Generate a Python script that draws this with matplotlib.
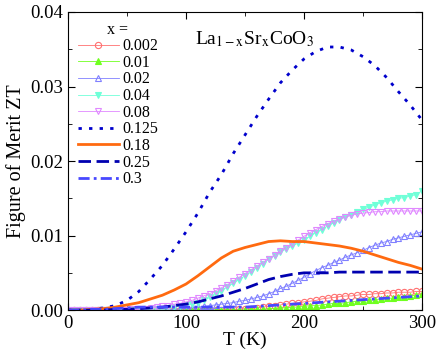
import numpy as np
import matplotlib
matplotlib.use("Agg")
import matplotlib.pyplot as plt
from matplotlib.ticker import MultipleLocator

plt.rcParams['font.family'] = ['Liberation Serif', 'DejaVu Serif']
plt.rcParams['mathtext.fontset'] = 'stix'

# temperatures for marker series (5 K steps) and line series (10 K steps)
T5 = np.arange(0, 301, 5)
T10 = np.arange(0, 301, 10)

zt_002 = [0.0] * 26 + [0.0000, 0.0001, 0.0001, 0.0001, 0.0002, 0.0002, 0.0003, 0.0004, 0.0005,
                       0.0006, 0.0007, 0.0008, 0.0009, 0.0010, 0.0011, 0.0012, 0.0013, 0.0015,
                       0.0016, 0.0017, 0.0018, 0.0019, 0.0019, 0.0020, 0.0021, 0.0021, 0.0022,
                       0.0022, 0.0023, 0.0023, 0.0024, 0.0024, 0.0024, 0.0025, 0.0025]
zt_01 = [0.0] * 31 + [0.0001, 0.0001, 0.0001, 0.0002, 0.0002, 0.0003, 0.0003, 0.0004, 0.0004,
                      0.0005, 0.0006, 0.0006, 0.0007, 0.0008, 0.0009, 0.0009, 0.0010, 0.0011,
                      0.0012, 0.0012, 0.0013, 0.0014, 0.0015, 0.0016, 0.0016, 0.0017, 0.0018,
                      0.0019, 0.0020, 0.0021]
zt_02 = [0.0] * 17 + [0.0001, 0.0001, 0.0002, 0.0002, 0.0003, 0.0004, 0.0005, 0.0006, 0.0007,
                      0.0008, 0.0009, 0.0010, 0.0012, 0.0013, 0.0015, 0.0017, 0.0019, 0.0022,
                      0.0025, 0.0029, 0.0032, 0.0036, 0.0040, 0.0044, 0.0049, 0.0053, 0.0057,
                      0.0060, 0.0064, 0.0067, 0.0071, 0.0074, 0.0077, 0.0080, 0.0084, 0.0087,
                      0.0090, 0.0092, 0.0095, 0.0097, 0.0099, 0.0101, 0.0103, 0.0105]
zt_04 = [0.0] * 13 + [0.0001, 0.0001, 0.0002, 0.0002, 0.0003, 0.0004, 0.0005, 0.0007, 0.0008,
                      0.0010, 0.0013, 0.0017, 0.0021, 0.0026, 0.0031, 0.0036, 0.0041, 0.0046,
                      0.0051, 0.0057, 0.0062, 0.0068, 0.0073, 0.0078, 0.0082, 0.0086, 0.0090,
                      0.0094, 0.0099, 0.0104, 0.0108, 0.0113, 0.0117, 0.0121, 0.0125, 0.0128,
                      0.0132, 0.0135, 0.0138, 0.0141, 0.0144, 0.0146, 0.0148, 0.0150, 0.0151,
                      0.0153, 0.0155, 0.0160]
zt_08 = [0.0] * 11 + [0.0001, 0.0001, 0.0002, 0.0003, 0.0004, 0.0005, 0.0006, 0.0008, 0.0009,
                      0.0011, 0.0013, 0.0016, 0.0019, 0.0022, 0.0026, 0.0030, 0.0034, 0.0039,
                      0.0044, 0.0049, 0.0054, 0.0059, 0.0064, 0.0069, 0.0074, 0.0079, 0.0084,
                      0.0089, 0.0094, 0.0099, 0.0104, 0.0108, 0.0112, 0.0116, 0.0119, 0.0122,
                      0.0125, 0.0127, 0.0129, 0.0130, 0.0131, 0.0132, 0.0132, 0.0133, 0.0133,
                      0.0133, 0.0133, 0.0133, 0.0133, 0.0133]

zt_125 = [0.0, 0.0, 0.0001, 0.0003, 0.0006, 0.0013, 0.0025, 0.0042, 0.0060, 0.0082, 0.0105,
          0.0130, 0.0158, 0.0182, 0.0210, 0.0235, 0.0260, 0.0283, 0.0305, 0.0322, 0.0337,
          0.0347, 0.0353, 0.0353, 0.0349, 0.0340, 0.0328, 0.0312, 0.0293, 0.0275, 0.0255]
zt_18 = [0.0, 0.0, 0.0001, 0.0002, 0.0004, 0.0007, 0.0010, 0.0015, 0.0020, 0.0027, 0.0035,
         0.0046, 0.0058, 0.0070, 0.0079, 0.0084, 0.0088, 0.0092, 0.0093, 0.0092, 0.0092,
         0.0090, 0.0088, 0.0086, 0.0083, 0.0079, 0.0074, 0.0069, 0.0064, 0.0060, 0.0055]
zt_25 = [0.0, 0.0, 0.0, 0.0, 0.0001, 0.0001, 0.0002, 0.0003, 0.0004, 0.0006, 0.0008,
         0.0011, 0.0015, 0.0019, 0.0024, 0.0029, 0.0035, 0.0041, 0.0045, 0.0048, 0.0050,
         0.0050, 0.0050, 0.0051, 0.0051, 0.0051, 0.0051, 0.0051, 0.0051, 0.0051, 0.0051]
zt_3 = [0.0, 0.0, 0.0001, 0.0001, 0.0002, 0.0003, 0.0004, 0.0004, 0.0004, 0.0004, 0.0004,
        0.0004, 0.0004, 0.0004, 0.0004, 0.0004, 0.0005, 0.0006, 0.0007, 0.0008, 0.0009,
        0.0010, 0.0011, 0.0012, 0.0013, 0.0014, 0.0015, 0.0016, 0.0017, 0.0018, 0.0019]

fig = plt.figure(figsize=(4.36, 3.52), dpi=100)
ax = fig.add_axes([0.156, 0.119, 0.812, 0.847])

ms = 4.5
ax.plot(T5, zt_002, '-', color='#ff7070', lw=0.6, marker='o', mfc='none', ms=ms, mew=0.8, label='0.002')
ax.plot(T5, zt_01, '-', color='#70ff20', lw=0.6, marker='^', ms=ms, mew=0.8, label='0.01')
ax.plot(T5, zt_02, '-', color='#8080ff', lw=0.6, marker='^', mfc='none', ms=ms, mew=0.8, label='0.02')
ax.plot(T5, zt_04, '-', color='#70ffd8', lw=0.6, marker='v', ms=ms, mew=0.8, label='0.04')
ax.plot(T5, zt_08, '-', color='#e088ff', lw=0.6, marker='v', mfc='none', ms=ms, mew=0.8, label='0.08')
ax.plot(T10, zt_125, color='#0000cc', lw=2, dashes=(1.2, 2.6), label='0.125')
ax.plot(T10, zt_18, '-', color='#ff6a10', lw=2, label='0.18')
ax.plot(T10, zt_25, color='#0000b0', lw=2, dashes=(4.5, 2), label='0.25')
ax.plot(T10, zt_3, color='#4848ff', lw=2, dashes=(4, 1.5, 1, 1.5), label='0.3')

ax.set_xlim(0, 300)
ax.set_ylim(0, 0.04)
ax.xaxis.set_major_locator(MultipleLocator(100))
ax.xaxis.set_minor_locator(MultipleLocator(50))
ax.yaxis.set_major_locator(MultipleLocator(0.01))
ax.yaxis.set_minor_locator(MultipleLocator(0.005))
ax.yaxis.set_major_formatter(plt.FormatStrFormatter('%.2f'))
ax.tick_params(which='both', direction='in', top=True, right=True, labelsize=13.5)
ax.tick_params(which='major', length=5)
ax.tick_params(which='minor', length=3)

ax.set_xlabel('T (K)', fontsize=14, labelpad=0)
ax.set_ylabel('Figure of Merit ZT', fontsize=14.5, labelpad=3)

ax.text(0.36, 0.89, r'La$_{\rm 1-x}$Sr$_{\rm x}$CoO$_3$', transform=ax.transAxes, fontsize=14)

ax.legend(title='x =', loc='upper left', frameon=False, fontsize=11.5, title_fontsize=11.5,
          handlelength=2.6, numpoints=1, labelspacing=0.04, handletextpad=0.2,
          borderaxespad=0.2, bbox_to_anchor=(0.0, 1.0))

fig.savefig('out.png', dpi=100)
